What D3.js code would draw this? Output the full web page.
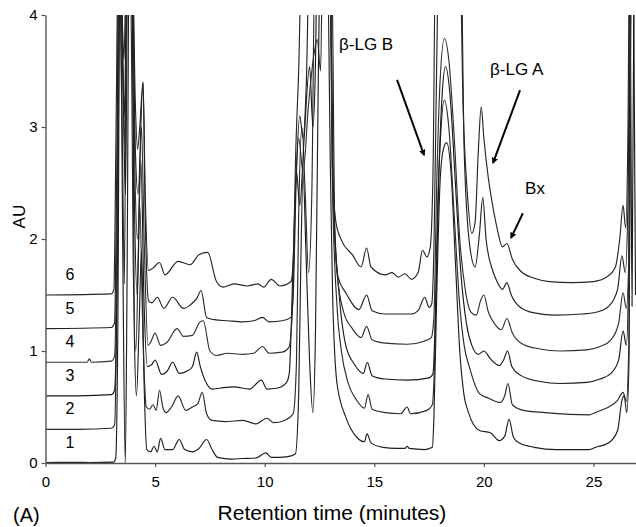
<!DOCTYPE html>
<html><head><meta charset="utf-8">
<script src="https://cdn.jsdelivr.net/npm/d3@7"></script>
<style>
body{margin:0;background:#fff;}
text{font-family:"Liberation Sans",Arial,sans-serif;fill:#000;}
</style></head>
<body><svg id="c" width="636" height="527"></svg>
<script>
// ---- data (retention time in minutes, absorbance in AU) ----
const offsets = [0, 0.3, 0.6, 0.9, 1.2, 1.5];
const traceLabels = ["1","2","3","4","5","6"];
const xTicks = [0,5,10,15,20,25];
const yTicks = [0,1,2,3,4];

const trace1 = [[0,0.004],[1.5,0.006],[2.0,0.004],[3.1,0.008],[3.2,0.04],[3.3,1.2],[3.4,4.6],[3.52,2.0],[3.64,0.0],[3.72,1.6],[3.82,4.6],[3.95,4.6],[4.05,1.2],[4.15,0.6],[4.28,1.3],[4.38,1.9],[4.5,0.7],[4.62,0.12],[4.8,0.1],[4.95,0.15],[5.1,0.1],[5.25,0.22],[5.45,0.12],[5.8,0.12],[6.1,0.21],[6.35,0.12],[6.7,0.1],[7.0,0.13],[7.35,0.21],[7.6,0.12],[7.85,0.05],[8.5,0.035],[9.0,0.04],[9.6,0.045],[10.05,0.09],[10.3,0.05],[11.0,0.055],[11.4,0.08],[11.55,0.6],[11.65,1.8],[11.75,2.6],[11.88,1.9],[12.05,0.9],[12.2,0.45],[12.32,1.2],[12.45,3.5],[12.55,4.6],[12.85,4.6],[13.0,2.6],[13.1,1.5],[13.3,0.71],[13.7,0.41],[14.2,0.23],[14.55,0.19],[14.67,0.26],[14.85,0.18],[15.4,0.14],[16.0,0.13],[16.4,0.13],[16.5,0.15],[16.6,0.13],[17.3,0.12],[17.65,0.14],[17.72,0.4],[17.85,1.5],[18.0,2.5],[18.15,2.8],[18.3,2.86],[18.5,2.6],[18.7,1.8],[18.9,1.0],[19.1,0.6],[19.3,0.45],[19.8,0.29],[20.3,0.27],[20.7,0.2],[20.95,0.24],[21.15,0.39],[21.35,0.23],[21.6,0.18],[22.3,0.14],[23.3,0.12],[24.8,0.12],[25.1,0.14],[25.7,0.18],[26.1,0.29],[26.3,0.56],[26.4,0.6],[26.52,0.45],[26.62,0.9],[26.7,4.6],[26.82,4.6],[26.92,1.5]];

const trace2 = [[0,0.3],[1.5,0.3],[3.0,0.31],[3.15,0.34],[3.25,1.5],[3.35,4.6],[3.5,3.0],[3.6,1.6],[3.7,4.6],[3.88,4.6],[4.0,1.8],[4.12,1.0],[4.3,2.3],[4.45,1.1],[4.6,0.5],[4.75,0.48],[4.9,0.52],[5.05,0.47],[5.2,0.65],[5.35,0.5],[5.5,0.45],[5.75,0.5],[6.05,0.6],[6.4,0.47],[6.7,0.5],[6.95,0.53],[7.15,0.63],[7.35,0.44],[7.6,0.38],[8.2,0.37],[9.0,0.38],[9.6,0.35],[10.1,0.4],[10.4,0.36],[10.9,0.38],[11.3,0.44],[11.45,0.9],[11.55,2.2],[11.7,3.0],[11.85,2.4],[12.0,1.7],[12.15,2.4],[12.3,4.6],[12.95,4.6],[13.1,2.4],[13.3,1.4],[13.5,1.0],[13.8,0.72],[14.2,0.56],[14.55,0.49],[14.72,0.61],[14.9,0.48],[15.5,0.45],[16.2,0.44],[16.5,0.5],[16.65,0.44],[17.4,0.47],[17.65,0.52],[17.75,0.9],[17.88,2.2],[18.02,2.9],[18.2,3.24],[18.4,3.0],[18.65,2.2],[18.9,1.4],[19.1,1.05],[19.35,0.85],[19.8,0.62],[20.2,0.58],[20.75,0.54],[20.95,0.6],[21.1,0.71],[21.3,0.52],[21.8,0.47],[22.8,0.45],[24.8,0.43],[25.2,0.46],[25.7,0.5],[26.1,0.56],[26.35,0.63],[26.5,0.55],[26.62,1.1],[26.72,4.6],[26.85,4.6]];

const trace3 = [[0,0.6],[1.5,0.6],[3.0,0.61],[3.15,0.65],[3.28,1.8],[3.4,4.6],[3.55,3.2],[3.65,2.4],[3.76,4.6],[3.92,4.6],[4.05,2.4],[4.18,1.5],[4.35,2.7],[4.5,1.4],[4.65,0.86],[4.85,0.88],[5.0,0.92],[5.3,0.79],[5.55,0.82],[5.8,0.9],[6.1,0.8],[6.45,0.82],[6.7,0.86],[6.9,0.99],[7.05,0.87],[7.35,0.71],[7.6,0.66],[8.0,0.67],[8.6,0.68],[9.3,0.66],[9.85,0.74],[10.1,0.66],[10.6,0.67],[11.0,0.72],[11.12,0.8],[11.3,1.8],[11.45,2.6],[11.6,2.3],[11.8,2.9],[12.05,3.54],[12.2,3.0],[12.32,3.6],[12.4,4.6],[12.95,4.6],[13.15,2.3],[13.4,1.5],[13.7,1.05],[14.1,0.88],[14.5,0.8],[14.68,0.9],[14.9,0.78],[15.5,0.75],[16.5,0.74],[17.5,0.76],[17.68,0.8],[17.8,1.4],[17.95,2.6],[18.1,3.3],[18.25,3.54],[18.45,3.3],[18.7,2.5],[18.95,1.7],[19.2,1.25],[19.45,1.05],[19.75,0.97],[20.0,1.0],[20.3,0.93],[20.7,0.87],[20.9,0.92],[21.08,1.0],[21.28,0.86],[21.7,0.78],[22.5,0.73],[23.5,0.71],[24.7,0.72],[25.3,0.75],[25.8,0.8],[26.15,0.92],[26.35,1.18],[26.5,1.05],[26.6,1.6],[26.68,3.87],[26.76,1.4],[26.86,4.6]];

const trace4 = [[0,0.9],[1.9,0.9],[2.0,0.93],[2.1,0.9],[3.0,0.91],[3.15,0.95],[3.27,2.2],[3.38,4.6],[3.55,3.4],[3.63,2.8],[3.74,4.6],[3.95,4.6],[4.08,2.6],[4.2,2.0],[4.38,3.0],[4.5,2.0],[4.68,1.05],[4.8,1.08],[5.0,1.16],[5.25,1.05],[5.55,1.08],[6.0,1.2],[6.3,1.13],[6.7,1.14],[7.05,1.26],[7.2,1.27],[7.5,1.0],[7.8,0.96],[8.3,0.98],[9.0,0.97],[9.5,0.98],[9.9,1.04],[10.2,0.98],[10.8,0.99],[11.1,1.03],[11.25,1.3],[11.4,2.4],[11.55,2.9],[11.75,2.6],[12.0,3.2],[12.25,3.65],[12.4,3.78],[12.55,3.5],[12.65,4.6],[12.98,4.6],[13.1,2.5],[13.3,1.7],[13.6,1.35],[14.0,1.2],[14.4,1.12],[14.65,1.22],[14.9,1.1],[15.5,1.07],[16.5,1.06],[17.3,1.09],[17.6,1.12],[17.72,1.3],[17.85,2.5],[18.0,3.4],[18.2,3.79],[18.4,3.6],[18.65,2.9],[18.9,2.0],[19.15,1.55],[19.4,1.35],[19.65,1.32],[19.85,1.45],[20.0,1.5],[20.2,1.35],[20.5,1.24],[20.8,1.19],[21.05,1.29],[21.3,1.16],[21.7,1.07],[22.5,1.02],[23.5,1.0],[24.7,1.01],[25.3,1.04],[25.8,1.1],[26.15,1.25],[26.35,1.52],[26.5,1.38],[26.65,2.2],[26.74,4.6],[26.87,4.6]];

const trace5 = [[0,1.2],[3.0,1.21],[3.15,1.25],[3.25,2.6],[3.35,4.6],[3.5,3.8],[3.6,3.1],[3.72,4.6],[3.95,4.6],[4.1,2.8],[4.22,2.4],[4.45,3.4],[4.55,2.2],[4.7,1.45],[4.85,1.43],[5.1,1.48],[5.4,1.38],[5.8,1.48],[6.3,1.38],[6.6,1.41],[6.9,1.47],[7.1,1.54],[7.35,1.3],[7.7,1.28],[8.3,1.27],[9.0,1.26],[9.5,1.27],[9.9,1.3],[10.2,1.26],[10.8,1.27],[11.2,1.3],[11.3,1.5],[11.45,2.6],[11.6,3.1],[11.75,2.9],[11.9,3.4],[12.05,4.6],[13.05,4.6],[13.2,2.1],[13.35,1.66],[13.7,1.52],[14.3,1.37],[14.65,1.5],[14.9,1.36],[15.5,1.33],[16.7,1.33],[17.0,1.36],[17.3,1.48],[17.5,1.39],[17.62,1.42],[17.72,1.9],[17.85,3.6],[17.95,4.6],[18.95,4.6],[19.1,2.8],[19.35,1.95],[19.6,1.75],[19.8,2.05],[19.95,2.37],[20.1,2.0],[20.35,1.75],[20.6,1.62],[20.85,1.55],[21.05,1.61],[21.25,1.5],[21.6,1.4],[22.3,1.34],[23.3,1.32],[24.5,1.33],[25.2,1.35],[25.7,1.4],[26.1,1.55],[26.3,1.85],[26.45,1.7],[26.58,2.4],[26.68,4.6],[26.82,4.6]];

const trace6 = [[0,1.5],[3.0,1.51],[3.12,1.55],[3.22,3.0],[3.32,4.6],[3.48,4.1],[3.58,3.6],[3.7,4.6],[3.95,4.6],[4.1,3.2],[4.2,2.8],[4.3,3.0],[4.45,3.4],[4.55,2.4],[4.7,1.72],[4.9,1.74],[5.2,1.79],[5.45,1.68],[6.05,1.8],[6.6,1.77],[7.0,1.86],[7.4,1.88],[7.8,1.62],[8.1,1.57],[8.6,1.6],[9.2,1.58],[9.7,1.6],[9.95,1.57],[10.3,1.64],[10.7,1.58],[11.2,1.62],[11.3,1.8],[11.42,2.8],[11.55,3.5],[11.7,4.6],[13.0,4.6],[13.1,2.6],[13.25,2.15],[13.5,1.99],[14.0,1.86],[14.4,1.75],[14.65,1.92],[14.85,1.75],[15.5,1.68],[15.8,1.7],[16.1,1.66],[16.4,1.69],[16.7,1.64],[17.0,1.7],[17.2,1.9],[17.4,1.84],[17.55,1.92],[17.68,2.6],[17.8,4.6],[18.9,4.6],[19.05,3.2],[19.25,2.4],[19.45,2.05],[19.6,2.15],[19.75,2.8],[19.88,3.18],[20.0,2.9],[20.2,2.55],[20.4,2.3],[20.6,2.1],[20.85,1.93],[21.05,1.96],[21.3,1.82],[21.7,1.71],[22.3,1.65],[23.0,1.62],[24.0,1.61],[25.0,1.62],[25.6,1.66],[26.0,1.75],[26.2,2.0],[26.35,2.3],[26.47,2.1],[26.57,2.9],[26.65,4.6],[26.8,4.6]];

const traces = [trace1, trace2, trace3, trace4, trace5, trace6];

// annotations: label, text anchor point, arrow start, arrow end (data units)
const annotations = [
  {text:"β-LG B", tx:13.39, ty:3.69, x1:16.04, y1:3.42, x2:17.27, y2:2.75},
  {text:"β-LG A", tx:20.28, ty:3.46, x1:21.65, y1:3.33, x2:20.42, y2:2.68},
  {text:"Bx",     tx:21.88, ty:2.40, x1:21.78, y1:2.23, x2:21.24, y2:2.01}
];

// ---- drawing ----
const svg = d3.select("#c");
const x = d3.scaleLinear().domain([0, 26.95]).range([45.5, 636.2]);
const y = d3.scaleLinear().domain([0, 4]).range([463, 15]);

svg.append("defs").append("clipPath").attr("id","clip")
  .append("rect").attr("x", x(0)).attr("y", y(4)).attr("width", x(26.95)-x(0)).attr("height", y(0)-y(4));
svg.select("defs").append("marker").attr("id","arr")
  .attr("viewBox","0 0 10 10").attr("refX",8).attr("refY",5)
  .attr("markerWidth",3.2).attr("markerHeight",3.2).attr("orient","auto")
  .append("path").attr("d","M0,0L10,5L0,10z").attr("fill","#000");

const line = d3.line().x(d=>x(d[0])).y(d=>y(d[1])).curve(d3.curveMonotoneX);
const colors = ["#1e1e1e","#2a2a2a","#1a1a1a","#303030","#222","#262626"];
svg.append("g").attr("clip-path","url(#clip)")
  .selectAll("path").data(traces).join("path")
  .attr("d", line).attr("fill","none")
  .attr("stroke",(d,i)=>colors[i]).attr("stroke-width",1.15);

// axes
const xAxis = svg.append("g").attr("transform",`translate(0,${y(0)})`)
  .call(d3.axisBottom(x).tickValues(xTicks).tickFormat(d3.format("d")).tickSize(4).tickPadding(9).tickSizeOuter(0));
const yAxis = svg.append("g").attr("transform",`translate(${x(0)},0)`)
  .call(d3.axisLeft(y).tickValues(yTicks).tickFormat(d3.format("d")).tickSize(4).tickPadding(4).tickSizeOuter(0));
[xAxis,yAxis].forEach(a=>{
  a.select(".domain").attr("stroke","#555").attr("stroke-width",1.4);
  a.selectAll(".tick line").attr("stroke","#555").attr("stroke-width",1.2);
  a.selectAll(".tick text").attr("font-size","15px").attr("font-family","Liberation Sans, Arial, sans-serif").attr("fill","#000");
});

// trace labels
svg.append("g").selectAll("text").data(traceLabels).join("text")
  .attr("x", x(1.12)).attr("y",(d,i)=>y(offsets[i]) - 15)
  .attr("text-anchor","middle").attr("font-size","16px").text(d=>d);

// annotations
const ann = svg.append("g");
annotations.forEach(a=>{
  ann.append("text").attr("x",x(a.tx)).attr("y",y(a.ty)).attr("font-size","17px").text(a.text);
  ann.append("line").attr("x1",x(a.x1)).attr("y1",y(a.y1)).attr("x2",x(a.x2)).attr("y2",y(a.y2))
    .attr("stroke","#000").attr("stroke-width",2).attr("marker-end","url(#arr)");
});

// axis titles
svg.append("text").attr("transform",`translate(25,${y(2.2)}) rotate(-90)`)
  .attr("text-anchor","middle").attr("font-size","17px").text("AU");
svg.append("text").attr("x",332).attr("y",520).attr("text-anchor","middle")
  .attr("font-size","21px").text("Retention time (minutes)");
svg.append("text").attr("x",13).attr("y",522).attr("font-size","20px").text("(A)");
</script></body></html>
